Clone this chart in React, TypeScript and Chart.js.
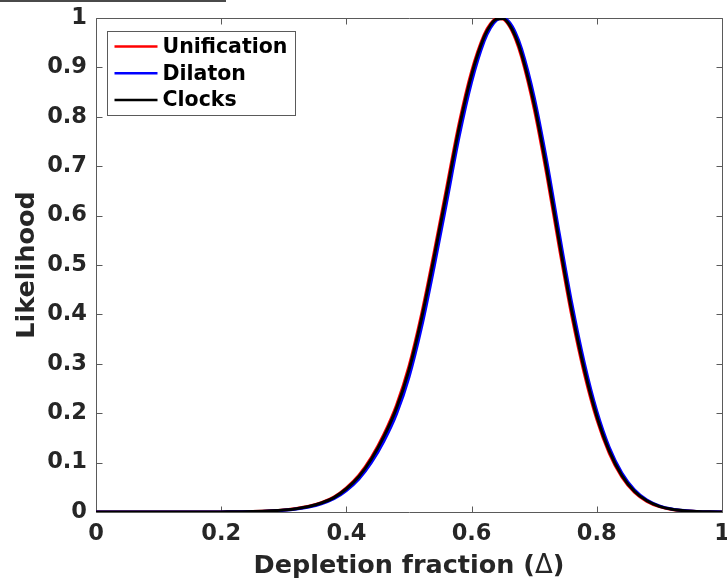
import React, { useEffect, useRef } from "react";
import { Chart, registerables } from "chart.js";

Chart.register(...registerables);

// Depletion fraction (Δ) sample points
const xValues = [
  0, 0.05, 0.1, 0.15, 0.2, 0.25, 0.28, 0.3, 0.32, 0.34, 0.36, 0.38, 0.4, 0.42, 0.44, 0.46,
  0.48, 0.5, 0.52, 0.54, 0.56, 0.58, 0.6, 0.62, 0.63, 0.64, 0.65, 0.66, 0.67, 0.68, 0.7,
  0.72, 0.74, 0.76, 0.78, 0.8, 0.82, 0.84, 0.86, 0.88, 0.9, 0.92, 0.94, 0.96, 0.98, 1,
];

const unification = [
  0, 0, 0, 0, 0.0002, 0.0009, 0.0024, 0.0041, 0.007, 0.0116, 0.0189, 0.0303, 0.0489, 0.0744,
  0.1108, 0.1576, 0.2162, 0.2952, 0.4002, 0.5247, 0.6558, 0.7863, 0.8921, 0.966, 0.988, 0.999,
  0.998, 0.9844, 0.9581, 0.9203, 0.816, 0.6833, 0.5359, 0.3972, 0.2806, 0.1875, 0.1187, 0.0709,
  0.0401, 0.0215, 0.0109, 0.0052, 0.0023, 0.001, 0.0004, 0.0002,
];

const dilaton = [
  0, 0, 0, 0, 0.0002, 0.0008, 0.0021, 0.0036, 0.0061, 0.0101, 0.0166, 0.0268, 0.0436, 0.0669,
  0.1003, 0.1437, 0.1984, 0.2731, 0.374, 0.4957, 0.6263, 0.7596, 0.8709, 0.953, 0.9798, 0.9959,
  0.9999, 0.9917, 0.9703, 0.9369, 0.8395, 0.7108, 0.564, 0.4228, 0.302, 0.204, 0.1305, 0.0789,
  0.0451, 0.0244, 0.0125, 0.006, 0.0028, 0.0012, 0.0005, 0.0002,
];

const clocks = [
  0, 0, 0, 0, 0.0002, 0.0009, 0.0023, 0.004, 0.0067, 0.0111, 0.0182, 0.0291, 0.0471, 0.0719,
  0.1073, 0.153, 0.2103, 0.2878, 0.3915, 0.515, 0.646, 0.7774, 0.885, 0.9617, 0.9853, 0.998,
  0.9989, 0.9871, 0.9627, 0.9265, 0.8248, 0.6936, 0.5464, 0.4068, 0.2886, 0.1937, 0.1231,
  0.0739, 0.042, 0.0226, 0.0115, 0.0055, 0.0025, 0.0011, 0.0004, 0.0002,
];

const seriesNames = ["Unification", "Dilaton", "Clocks"];
const seriesValues = [unification, dilaton, clocks];
const seriesColors = ["#ff0000", "#0000ff", "#000000"];

const xTitleParts = ["Depletion fraction (", "\u0394", ")"];
const yTitle = "Likelihood";

const FONT = '"DejaVu Sans", "Liberation Sans", sans-serif';
const AXIS_COLOR = "#5a5a5a";
const TEXT_COLOR = "#262626";
const TICK_LEN = 6;

export default function App() {
  const ref = useRef<HTMLCanvasElement | null>(null);

  useEffect(() => {
    const canvas = ref.current;
    if (!canvas) return;

    const framePlugin = {
      id: "frame",
      beforeDatasetsDraw(chart: any) {
        const { ctx, chartArea: a, scales } = chart;
        ctx.save();
        // stray line at top-left of the picture
        ctx.fillStyle = "#4a4a4a";
        ctx.fillRect(0, 0, 226, 2);

        ctx.strokeStyle = AXIS_COLOR;
        ctx.lineWidth = 1;
        const L = Math.round(a.left) + 0.5;
        const R = Math.round(a.right) + 0.5;
        const T = Math.round(a.top) + 0.5;
        const B = Math.round(a.bottom) + 0.5;
        ctx.beginPath();
        ctx.rect(L, T, R - L, B - T);
        const xs = scales.x;
        xs.ticks.forEach((t: any) => {
          const px = Math.round(xs.getPixelForValue(t.value)) + 0.5;
          ctx.moveTo(px, B);
          ctx.lineTo(px, B - TICK_LEN);
          ctx.moveTo(px, T);
          ctx.lineTo(px, T + TICK_LEN);
        });
        const ys = scales.y;
        ys.ticks.forEach((t: any) => {
          const py = Math.round(ys.getPixelForValue(t.value)) + 0.5;
          ctx.moveTo(L, py);
          ctx.lineTo(L + TICK_LEN, py);
          ctx.moveTo(R, py);
          ctx.lineTo(R - TICK_LEN, py);
        });
        ctx.stroke();
        ctx.restore();
      },
      afterDatasetsDraw(chart: any) {
        const { ctx, chartArea: a } = chart;
        ctx.save();
        // legend
        const bx = Math.round(a.left + 11) + 0.5;
        const by = Math.round(a.top + 13) + 0.5;
        const bw = 188;
        const bh = 84;
        ctx.fillStyle = "#ffffff";
        ctx.fillRect(bx, by, bw, bh);
        ctx.strokeStyle = AXIS_COLOR;
        ctx.lineWidth = 1;
        ctx.strokeRect(bx, by, bw, bh);
        ctx.font = `bold 20.5px ${FONT}`;
        ctx.textBaseline = "middle";
        ctx.textAlign = "left";
        seriesNames.forEach((name, i) => {
          const cy = by + 15 + i * 26.7;
          ctx.strokeStyle = seriesColors[i];
          ctx.lineWidth = 2.5;
          ctx.beginPath();
          ctx.moveTo(bx + 7, cy);
          ctx.lineTo(bx + 50, cy);
          ctx.stroke();
          ctx.fillStyle = "#000000";
          ctx.fillText(name, bx + 55, cy + 1);
        });

        // x-axis title, with a regular-weight Δ
        const fonts = [`bold 25.5px ${FONT}`, `normal 26px ${FONT}`, `bold 25.5px ${FONT}`];
        const widths = xTitleParts.map((p, i) => {
          ctx.font = fonts[i];
          return ctx.measureText(p).width;
        });
        const total = widths.reduce((s, w) => s + w, 0);
        let x = (a.left + a.right) / 2 - total / 2;
        const y = 573;
        ctx.fillStyle = TEXT_COLOR;
        ctx.textBaseline = "alphabetic";
        xTitleParts.forEach((p, i) => {
          ctx.font = fonts[i];
          ctx.fillText(p, x, y);
          x += widths[i];
        });
        ctx.restore();
      },
    };

    const datasets = seriesNames.map((name, i) => ({
      label: name,
      data: xValues.map((x, j) => ({ x, y: seriesValues[i][j] })),
      borderColor: seriesColors[i],
      backgroundColor: seriesColors[i],
      borderWidth: 3,
      pointRadius: 0,
      fill: false,
      cubicInterpolationMode: "monotone" as const,
      order: 2 - i,
    }));

    const chart = new Chart(canvas, {
      type: "line",
      data: { datasets },
      options: {
        responsive: false,
        animation: false,
        events: [],
        layout: { padding: { left: 0, top: 18, right: 5, bottom: 0 } },
        plugins: {
          legend: { display: false },
          tooltip: { enabled: false },
        },
        scales: {
          x: {
            type: "linear",
            min: 0,
            max: 1,
            grid: { display: false, drawTicks: false },
            border: { display: false },
            ticks: {
              stepSize: 0.2,
              autoSkip: false,
              maxRotation: 0,
              padding: 9,
              color: TEXT_COLOR,
              font: { family: FONT, size: 22.5, weight: "bold" },
              callback: (v: any) => String(Math.round(Number(v) * 10) / 10),
            },
            afterFit: (s: any) => {
              s.height = 68;
              s.paddingLeft = 0;
              s.paddingRight = 0;
            },
          },
          y: {
            type: "linear",
            min: 0,
            max: 1,
            grid: { display: false, drawTicks: false },
            border: { display: false },
            ticks: {
              stepSize: 0.1,
              autoSkip: false,
              padding: 9,
              color: TEXT_COLOR,
              font: { family: FONT, size: 22.5, weight: "bold" },
              callback: (v: any) => String(Math.round(Number(v) * 10) / 10),
            },
            title: {
              display: true,
              text: yTitle,
              color: TEXT_COLOR,
              font: { family: FONT, size: 25.5, weight: "bold" },
              padding: { top: 12, bottom: 0 },
            },
            afterFit: (s: any) => {
              s.width = 96;
              s.paddingTop = 0;
              s.paddingBottom = 0;
            },
          },
        },
      },
      plugins: [framePlugin],
    });

    return () => chart.destroy();
  }, []);

  return (
    <div style={{ position: "absolute", left: 0, top: 0, width: 727, height: 580, background: "#fff" }}>
      <canvas ref={ref} width={727} height={580} style={{ display: "block", width: 727, height: 580 }} />
    </div>
  );
}
